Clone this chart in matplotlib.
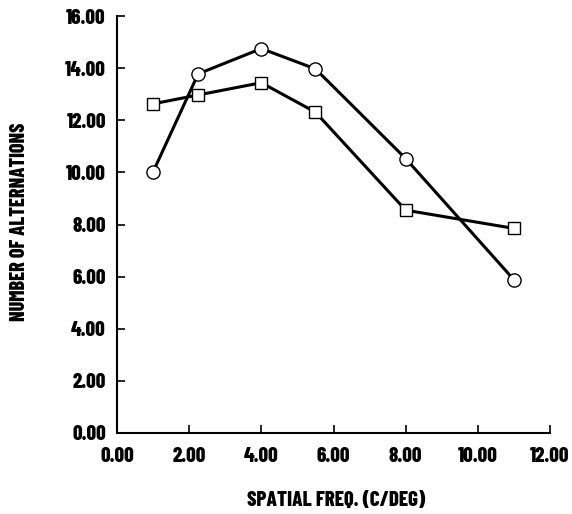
import matplotlib
matplotlib.use('Agg')
import matplotlib.pyplot as plt
from matplotlib import font_manager
from matplotlib.ticker import FormatStrFormatter

# data
freq = [1.0, 2.25, 4.0, 5.5, 8.0, 11.0]
circle_vals = [10.02, 13.78, 14.75, 13.97, 10.53, 5.88]
square_vals = [12.63, 12.97, 13.44, 12.31, 8.55, 7.85]

x_ticks = [0, 2, 4, 6, 8, 10, 12]
y_ticks = [0, 2, 4, 6, 8, 10, 12, 14, 16]

# condensed bold face, pick the first one installed
available = {f.name for f in font_manager.fontManager.ttflist}
family = 'DejaVu Sans'
for cand in ['Barlow Condensed', 'Asap Condensed', 'Archivo Narrow', 'Liberation Sans Narrow']:
    if cand in available:
        family = cand
        break
plt.rcParams['font.family'] = [family, 'DejaVu Sans']
weight = 800

fig = plt.figure(figsize=(5.72, 5.14), dpi=100)
ax = fig.add_axes([117 / 572, 1 - 433 / 514, 433 / 572, 417 / 514])

ax.plot(freq, circle_vals, '-o', color='black', linewidth=2.2, markersize=9.5,
        markerfacecolor='white', markeredgecolor='black', markeredgewidth=1.0, zorder=3)
ax.plot(freq, square_vals, '-s', color='black', linewidth=2.2, markersize=9,
        markerfacecolor='white', markeredgecolor='black', markeredgewidth=1.0, zorder=3)

ax.set_xlim(0, 12)
ax.set_ylim(0, 16)
ax.set_xticks(x_ticks)
ax.set_yticks(y_ticks)
ax.xaxis.set_major_formatter(FormatStrFormatter('%.2f'))
ax.yaxis.set_major_formatter(FormatStrFormatter('%.2f'))

for side in ['top', 'right']:
    ax.spines[side].set_visible(False)
for side in ['left', 'bottom']:
    ax.spines[side].set_linewidth(1.5)

ax.tick_params(direction='in', length=6, width=1.2, labelsize=15)
ax.tick_params(axis='x', pad=10)
ax.tick_params(axis='y', pad=8)
for lbl in ax.get_xticklabels() + ax.get_yticklabels():
    lbl.set_fontweight(weight)

fig.text(336 / 572, 1 - 500 / 514, 'SPATIAL FREQ. (C/DEG)', ha='center', va='center',
         fontsize=15, fontweight=weight)
fig.text(20 / 572, 1 - 222 / 514, 'NUMBER OF ALTERNATIONS', ha='center', va='center',
         rotation=90, fontsize=14.5, fontweight=weight)

fig.savefig('out.png', dpi=100)
